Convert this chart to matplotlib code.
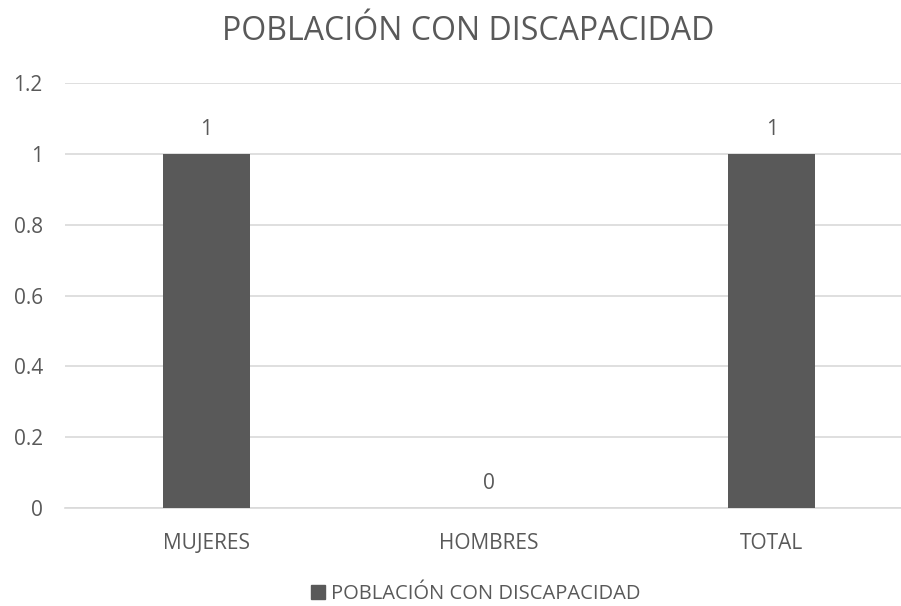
import matplotlib.pyplot as plt
from matplotlib.patches import Patch

categories = ['MUJERES', 'HOMBRES', 'TOTAL']
values = [1, 0, 1]
series_name = 'POBLACIÓN CON DISCAPACIDAD'
title = 'POBLACIÓN CON DISCAPACIDAD'
yticks = [0, 0.2, 0.4, 0.6, 0.8, 1, 1.2]
ytick_labels = ['0', '0.2', '0.4', '0.6', '0.8', '1', '1.2']

text_col = '#595959'
bar_col = '#595959'
grid_col = '#d9d9d9'

plt.rcParams['font.family'] = ['Open Sans', 'DejaVu Sans']

fig = plt.figure(figsize=(9.01, 6.06), dpi=100)
ax = fig.add_axes([65 / 901, 1 - 508 / 606, 848 / 901, 425 / 606])

x = range(len(categories))
bars = ax.bar(x, values, width=0.31, color=bar_col, zorder=3)
for xi, v in zip(x, values):
    ax.text(xi, v + 0.04, f'{v}', ha='center', va='bottom',
            fontsize=15, color=text_col)

ax.set_xlim(-0.5, 2.5)
ax.set_ylim(0, 1.2)
ax.set_yticks(yticks)
ax.set_yticklabels(ytick_labels)
ax.set_xticks(list(x))
ax.set_xticklabels(categories)
ax.yaxis.grid(True, color=grid_col, linewidth=1.2, zorder=0)
ax.set_axisbelow(True)
for s in ['top', 'right', 'left']:
    ax.spines[s].set_visible(False)
ax.spines['bottom'].set_color(grid_col)
ax.spines['bottom'].set_linewidth(1.2)
ax.tick_params(axis='both', length=0, labelsize=15, colors=text_col)
ax.tick_params(axis='y', pad=16)
ax.tick_params(axis='x', pad=18)

fig.text(468 / 901, 1 - 31 / 606, title, ha='center', va='center',
         fontsize=23, color=text_col)

fig.legend(handles=[Patch(color=bar_col, label=series_name)],
           loc='center', bbox_to_anchor=(476 / 901, 1 - 594 / 606), frameon=False,
           fontsize=14.5, labelcolor=text_col, handlelength=0.7, handleheight=0.7,
           handletextpad=0.3)

fig.savefig('out.png', dpi=100)
